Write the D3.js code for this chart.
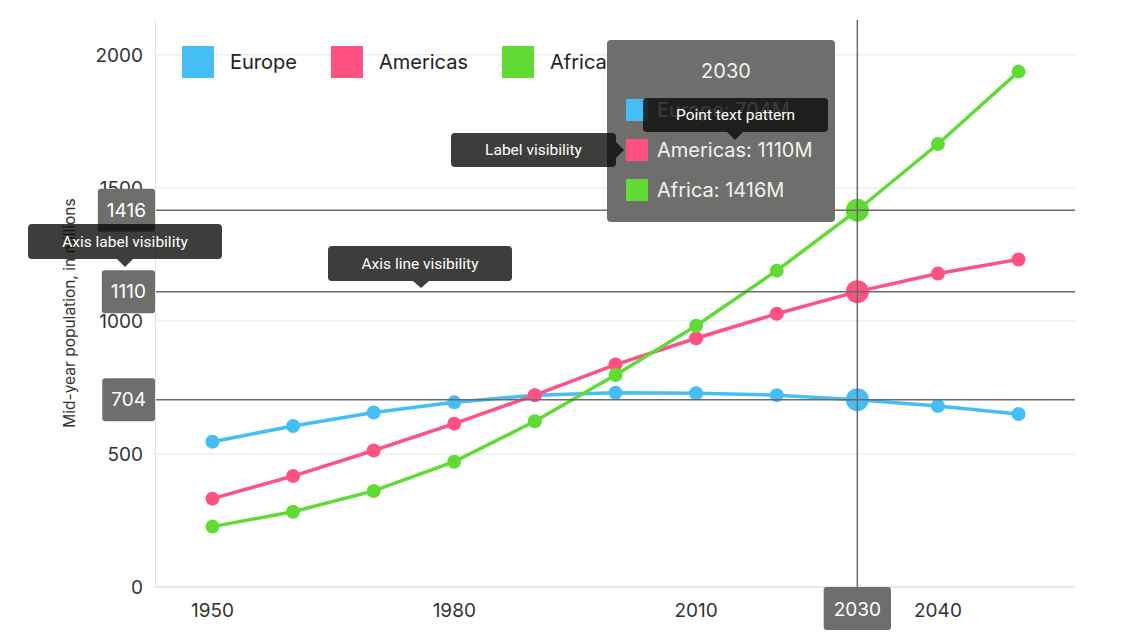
<!DOCTYPE html>
<html>
<head>
<meta charset="utf-8">
<script src="https://cdn.jsdelivr.net/npm/d3@7"></script>
<style>
  body { margin: 0; background: #fff; }
  text { font-family: Inter, Roboto, "Noto Sans", sans-serif; }
  text.callout { font-family: Roboto, "Noto Sans", sans-serif; }
</style>
</head>
<body>
<script>
// population data, millions
const years    = [1950, 1960, 1970, 1980, 1990, 2000, 2010, 2020, 2030, 2040, 2050];
const europe   = [546, 605, 656, 694, 721, 730, 728, 721, 704, 680, 650];
const americas = [332, 417, 513, 614, 721, 836, 935, 1027, 1110, 1178, 1231];
const africa   = [227, 283, 361, 471, 623, 797, 982, 1189, 1416, 1665, 1937];
const seriesNames = ["Europe", "Americas", "Africa"];
const xTicks = [1950, 1980, 2010, 2040];
const yTicks = [0, 500, 1000, 1500, 2000];
const hoverYear = 2030;

const colors = ["#44bef4", "#ff5283", "#5fdb33"];
const allSeries = [europe, americas, africa];

const W = 1136, H = 640;
const margin = {top: 20, right: 61, bottom: 53, left: 156};

const svg = d3.select("body").append("svg")
    .attr("width", W).attr("height", H);

const x = d3.scaleLinear().domain([1943, 2057]).range([margin.left, W - margin.right]);
const y = d3.scaleLinear().domain([0, 2131]).range([H - margin.bottom, margin.top]);

// grid
svg.append("g").selectAll("line").data(yTicks).join("line")
    .attr("x1", margin.left).attr("x2", W - margin.right)
    .attr("y1", d => y(d)).attr("y2", d => y(d))
    .attr("stroke", "#eeeeee").attr("stroke-width", 1.5);

// axis lines
svg.append("line")
    .attr("x1", margin.left - 0.5).attr("x2", margin.left - 0.5)
    .attr("y1", margin.top).attr("y2", y(0))
    .attr("stroke", "#e3e3e3");
svg.append("line")
    .attr("x1", margin.left).attr("x2", W - margin.right)
    .attr("y1", y(0)).attr("y2", y(0))
    .attr("stroke", "#e3e3e3").attr("stroke-width", 1.5);

// tick labels
svg.append("g").selectAll("text").data(yTicks).join("text")
    .attr("x", 143).attr("y", d => y(d)).attr("dy", "0.35em")
    .attr("text-anchor", "end").attr("font-size", 19).attr("fill", "#333")
    .text(d => d);
svg.append("g").selectAll("text").data(xTicks).join("text")
    .attr("x", d => x(d)).attr("y", 610).attr("dy", "0.35em")
    .attr("text-anchor", "middle").attr("font-size", 19).attr("fill", "#333")
    .text(d => d);

// axis title
svg.append("text")
    .attr("transform", "translate(75,313) rotate(-90)")
    .attr("text-anchor", "middle").attr("font-size", 15.5).attr("fill", "#333")
    .text("Mid-year population, in millions");

// series
const line = d3.line().x((d, i) => x(years[i])).y(d => y(d));
allSeries.forEach((vals, s) => {
  svg.append("path").datum(vals)
      .attr("d", line).attr("fill", "none")
      .attr("stroke", colors[s]).attr("stroke-width", 3.5);
});
allSeries.forEach((vals, s) => {
  svg.append("g").selectAll("circle").data(vals).join("circle")
      .attr("cx", (d, i) => x(years[i])).attr("cy", d => y(d))
      .attr("r", (d, i) => years[i] === hoverYear ? 11.5 : 7)
      .attr("fill", colors[s]);
});

// crosshair
const hi = years.indexOf(hoverYear);
const hoverVals = allSeries.map(v => v[hi]);
const chColor = "#6b6b6b";
svg.append("line")
    .attr("x1", x(hoverYear)).attr("x2", x(hoverYear))
    .attr("y1", margin.top).attr("y2", y(0))
    .attr("stroke", chColor).attr("stroke-width", 1.5);
svg.append("g").selectAll("line").data(hoverVals).join("line")
    .attr("x1", margin.left).attr("x2", W - margin.right)
    .attr("y1", d => y(d)).attr("y2", d => y(d))
    .attr("stroke", chColor).attr("stroke-width", 1.5);

// crosshair labels on y axis
const boxFill = "#6e6f6c";
hoverVals.forEach(v => {
  const g = svg.append("g");
  const t = g.append("text")
      .attr("x", 0).attr("y", y(v)).attr("dy", "0.35em")
      .attr("text-anchor", "middle").attr("font-size", 19).attr("fill", "#fff")
      .text(v);
  const tw = t.node().getComputedTextLength();
  const bw = tw + 18, right = margin.left - 1;
  g.insert("rect", "text")
      .attr("x", right - bw).attr("y", y(v) - 21.5)
      .attr("width", bw).attr("height", 43).attr("rx", 3)
      .attr("fill", boxFill);
  t.attr("x", right - bw / 2);
});
{
  const g = svg.append("g");
  const t = g.append("text")
      .attr("x", x(hoverYear)).attr("y", 609).attr("dy", "0.35em")
      .attr("text-anchor", "middle").attr("font-size", 19).attr("fill", "#fff")
      .text(hoverYear);
  const bw = t.node().getComputedTextLength() + 20;
  g.insert("rect", "text")
      .attr("x", x(hoverYear) - bw / 2).attr("y", y(0))
      .attr("width", bw).attr("height", 43).attr("rx", 3)
      .attr("fill", boxFill);
}

// legend
let lx = 182;
seriesNames.forEach((name, s) => {
  svg.append("rect").attr("x", lx).attr("y", 46)
      .attr("width", 32).attr("height", 32).attr("fill", colors[s]);
  const t = svg.append("text").attr("x", lx + 48).attr("y", 62).attr("dy", "0.35em")
      .attr("font-size", 20).attr("fill", "#222").text(name);
  lx += 48 + t.node().getComputedTextLength() + 34;
});

// tooltip
const tip = svg.append("g").attr("transform", "translate(607,40)");
tip.append("rect").attr("width", 228).attr("height", 182).attr("rx", 4)
    .attr("fill", boxFill);
tip.append("text").attr("x", 119).attr("y", 31).attr("dy", "0.35em")
    .attr("text-anchor", "middle").attr("font-size", 20).attr("fill", "#f2f2f2")
    .text(hoverYear);
seriesNames.forEach((name, s) => {
  const ry = 70 + s * 40;
  tip.append("rect").attr("x", 19).attr("y", ry - 11)
      .attr("width", 22).attr("height", 22).attr("fill", colors[s]);
  tip.append("text").attr("x", 50).attr("y", ry).attr("dy", "0.35em")
      .attr("font-size", 20).attr("fill", "#f2f2f2")
      .text(name + ": " + hoverVals[s] + "M");
});

// annotation callouts
const callouts = [
  {text: "Point text pattern",    x: 643, y: 98,  w: 185, h: 34, dir: "down",  tx: 735, ty: 140},
  {text: "Label visibility",      x: 451, y: 133, w: 165, h: 34, dir: "right", tx: 624, ty: 150},
  {text: "Axis label visibility", x: 28,  y: 224, w: 194, h: 35, dir: "down",  tx: 125, ty: 267},
  {text: "Axis line visibility",  x: 328, y: 246, w: 184, h: 35, dir: "down",  tx: 421, ty: 288}
];
callouts.forEach(c => {
  const g = svg.append("g");
  g.append("rect").attr("x", c.x).attr("y", c.y).attr("width", c.w).attr("height", c.h)
      .attr("rx", 4).attr("fill", "rgba(9,10,8,0.79)");
  let pts;
  if (c.dir === "down") {
    pts = [[c.tx - 8, c.y + c.h], [c.tx + 8, c.y + c.h], [c.tx, c.ty]];
  } else {
    pts = [[c.x + c.w, c.ty - 8], [c.x + c.w, c.ty + 8], [c.tx, c.ty]];
  }
  g.append("path").attr("d", d3.line()(pts) + "Z").attr("fill", "rgba(9,10,8,0.79)");
  g.append("text").attr("class", "callout")
      .attr("x", c.x + c.w / 2).attr("y", c.y + c.h / 2).attr("dy", "0.35em")
      .attr("text-anchor", "middle").attr("font-size", 15.5)
      .attr("fill", "#fff").text(c.text);
});
</script>
</body>
</html>
